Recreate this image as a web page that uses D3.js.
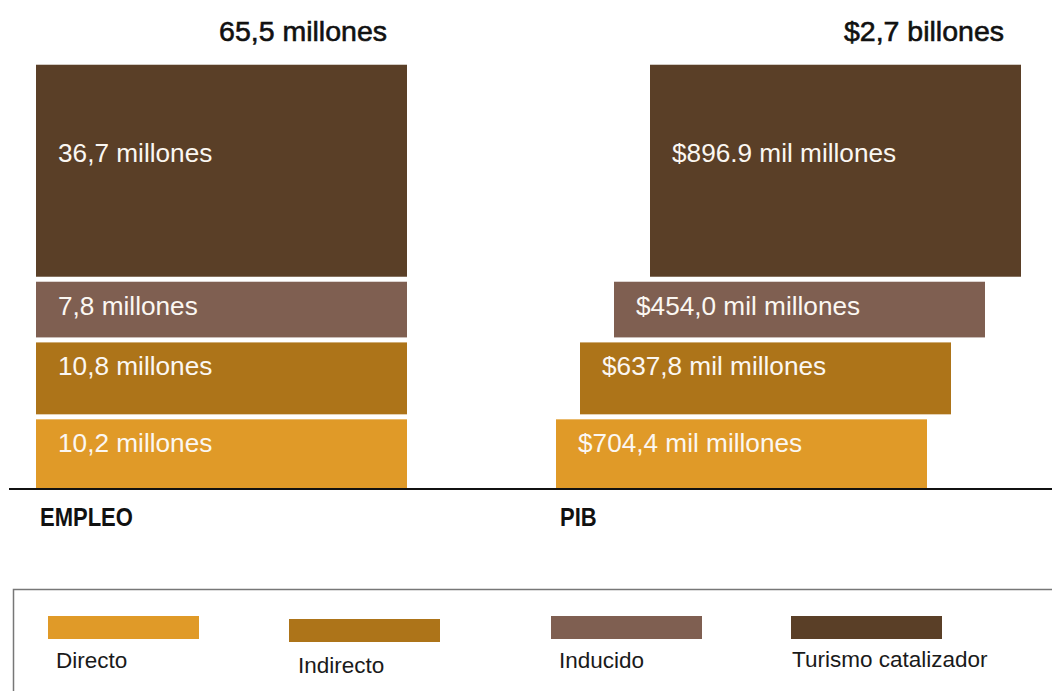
<!DOCTYPE html>
<html lang="es">
<head>
<meta charset="utf-8">
<title>Impacto del turismo: empleo y PIB</title>
<script src="https://cdn.jsdelivr.net/npm/d3@7"></script>
<style>
  html, body { margin: 0; padding: 0; background: #fff; }
  svg { display: block; font-family: "Liberation Sans", Arial, sans-serif; }
</style>
</head>
<body>
<svg id="chart" width="1052" height="691"></svg>
<script>
// Categories of economic impact, bottom to top
const categories = ["Directo", "Indirecto", "Inducido", "Turismo catalizador"];

// Employment (millions of jobs)
const empleo = [10.2, 10.8, 7.8, 36.7];
const empleoLabels = ["10,2 millones", "10,8 millones", "7,8 millones", "36,7 millones"];
const empleoTotal = "65,5 millones";

// GDP (thousands of millions of dollars)
const pib = [704.4, 637.8, 454.0, 896.9];
const pibLabels = ["$704,4 mil millones", "$637,8 mil millones", "$454,0 mil millones", "$896.9 mil millones"];
const pibTotal = "$2,7 billones";

// Column names
const columns = ["EMPLEO", "PIB"];

const colors = ["#E09A28", "#AD7419", "#7F5F51", "#5A3F27"];

(function () {
  const svg = d3.select("#chart");

  // Layout
  const baseY = 488;
  const gap = 5;
  const barWidth = 371;
  const labelPad = 22;
  // staircase shift of the PIB rows
  const pibShift = [0, 24, 58, 94];

  const x = d3.scaleBand().domain(columns).range([36, 1076]);

  // Row height grows with the employment value; a floor keeps small rows readable
  const h = d3.scaleLinear().domain([0, d3.max(empleo)]).range([13.5, 212]);

  // Stack the rows upward from the baseline
  const rows = [];
  let cursor = baseY;
  empleo.forEach((v, i) => {
    const height = h(v);
    const y0 = cursor - height;
    rows.push({ i, y: y0, height });
    cursor = y0 - gap;
  });

  const series = [
    { col: "EMPLEO", labels: empleoLabels, total: empleoTotal, shift: [0, 0, 0, 0], totalInset: 20 },
    { col: "PIB", labels: pibLabels, total: pibTotal, shift: pibShift, totalInset: 17 }
  ];

  series.forEach(s => {
    const g = svg.append("g");
    const x0 = x(s.col);

    g.selectAll("rect")
      .data(rows)
      .join("rect")
      .attr("x", d => x0 + s.shift[d.i])
      .attr("y", d => d.y)
      .attr("width", barWidth)
      .attr("height", d => d.height)
      .attr("fill", d => colors[d.i]);

    g.selectAll("text.val")
      .data(rows)
      .join("text")
      .attr("class", "val")
      .attr("x", d => x0 + s.shift[d.i] + labelPad)
      .attr("y", d => d.y + Math.max(d.height * 0.46, 33))
      .attr("fill", "#fbf7f2")
      .attr("font-size", 26.2)
      .text(d => s.labels[d.i]);

    // Total above the column, right-aligned to the top row
    const topRow = rows[rows.length - 1];
    g.append("text")
      .attr("x", x0 + s.shift[topRow.i] + barWidth - s.totalInset)
      .attr("y", 41)
      .attr("text-anchor", "end")
      .attr("font-size", 28.5)
      .attr("fill", "#111")
      .attr("stroke", "#111")
      .attr("stroke-width", 0.6)
      .text(s.total);

    // Column name under the baseline
    g.append("text")
      .attr("transform", `translate(${x0 + 4},526) scale(0.88,1)`)
      .attr("font-size", 25)
      .attr("font-weight", "bold")
      .attr("fill", "#111")
      .text(s.col);
  });

  // Baseline
  svg.append("line")
    .attr("x1", 9).attr("x2", 1052)
    .attr("y1", 489).attr("y2", 489)
    .attr("stroke", "#111")
    .attr("stroke-width", 2.2);

  // Legend
  const legendX = [48, 289, 551, 791];
  const legendDy = [0, 3, 0, 0];
  const legendTextX = [56, 298, 559, 792];
  const legendTextDy = [0, 5, 0, -1];

  svg.append("rect")
    .attr("x", 13.5).attr("y", 589.5)
    .attr("width", 1100).attr("height", 200)
    .attr("fill", "none")
    .attr("stroke", "#777")
    .attr("stroke-width", 1.5);

  const lg = svg.append("g")
    .selectAll("g")
    .data(categories)
    .join("g");

  lg.append("rect")
    .attr("x", (d, i) => legendX[i])
    .attr("y", (d, i) => 616 + legendDy[i])
    .attr("width", 151)
    .attr("height", 23)
    .attr("fill", (d, i) => colors[i]);

  lg.append("text")
    .attr("x", (d, i) => legendTextX[i])
    .attr("y", (d, i) => 668 + legendTextDy[i])
    .attr("font-size", 22.5)
    .attr("fill", "#1a1a1a")
    .text(d => d);
})();
</script>
</body>
</html>
